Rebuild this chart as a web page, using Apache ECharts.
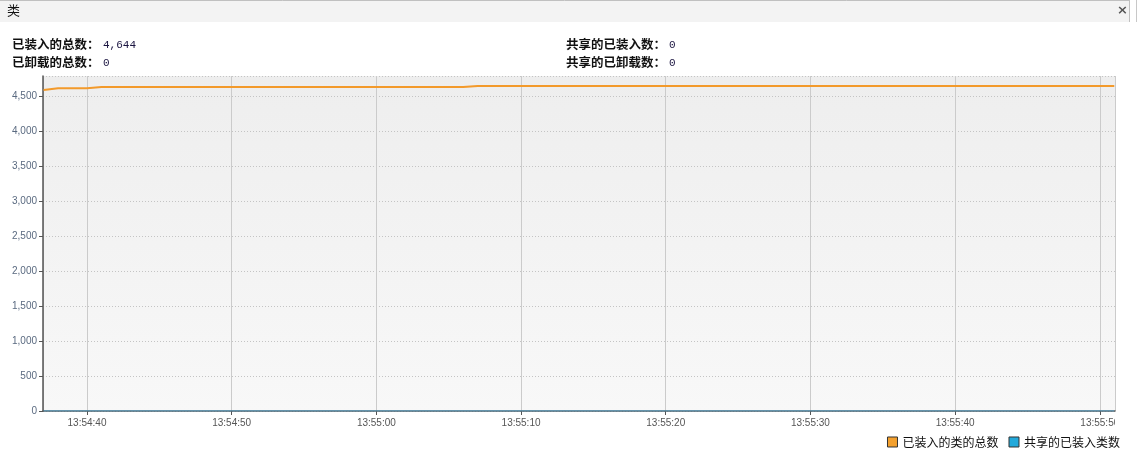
<!DOCTYPE html>
<html>
<head>
<meta charset="utf-8">
<script src="https://cdn.jsdelivr.net/npm/echarts@6/dist/echarts.min.js"></script>
<style>
html,body{margin:0;padding:0;background:#fff;}
#c{width:1137px;height:458px;}
</style>
</head>
<body>
<div id="c"></div>
<script>
// seconds after 13:54:00
var times = [37,38,39,40,41,42,43,44,45,46,47,48,49,50,51,52,53,54,55,56,57,58,59,60,61,62,63,64,65,66,67,68,69,70,71,72,73,74,75,76,77,78,79,80,81,82,83,84,85,86,87,88,89,90,91,92,93,94,95,96,97,98,99,100,101,102,103,104,105,106,107,108,109,110,111];
var loadedTotal = [4585,4610,4610,4610,4628,4628,4628,4628,4628,4628,4628,4628,4628,4628,4628,4628,4628,4628,4628,4628,4628,4628,4628,4628,4628,4628,4628,4628,4628,4628,4644,4644,4644,4644,4644,4644,4644,4644,4644,4644,4644,4644,4644,4644,4644,4644,4644,4644,4644,4644,4644,4644,4644,4644,4644,4644,4644,4644,4644,4644,4644,4644,4644,4644,4644,4644,4644,4644,4644,4644,4644,4644,4644,4644,4644];
var sharedLoaded = times.map(function(){return 0;});
var seriesNames = ['已装入的类的总数','共享的已装入类数'];
var infoLabels = ['已装入的总数：','已卸载的总数：','共享的已装入数：','共享的已卸载数：'];
var infoValues = ['4,644','0','0','0'];
var panelTitle = '类';

function pad(n){return (n<10?'0':'')+n;}
function fmtTime(v){
  var s = Math.round(v);
  var h = 13, m = 54 + Math.floor(s/60);
  return h + ':' + pad(m) + ':' + pad(s%60);
}
function fmtNum(v){ return String(v).replace(/\B(?=(\d{3})+(?!\d))/g, ','); }

var cjk = '"Noto Sans CJK SC", sans-serif';
var lab = '"Liberation Sans", Arial, sans-serif';
var chart = echarts.init(document.getElementById('c'), null, {renderer:'canvas'});
chart.setOption({
  animation:false,
  backgroundColor:'#ffffff',
  grid:{left:43,right:22,top:76,bottom:47,show:true,borderWidth:0,
    backgroundColor:new echarts.graphic.LinearGradient(0,0,0,1,[{offset:0,color:'#eeeeee'},{offset:1,color:'#f8f8f8'}])},
  xAxis:{
    type:'value', min:36.96, max:111.05,
    splitNumber:7,
    axisLine:{show:true,onZero:false,lineStyle:{color:'#555555',width:1.5}},
    axisTick:{show:true,length:4,lineStyle:{color:'#555555'}},
    splitLine:{show:true,lineStyle:{color:'#cbcbcb',width:1}},
    axisLabel:{formatter:fmtTime,showMinLabel:false,showMaxLabel:false,color:'#555555',fontSize:10,margin:7,fontFamily:lab}
  },
  yAxis:{
    type:'value', min:0, max:4786, interval:500,
    axisLine:{show:true,lineStyle:{color:'#555555',width:1.5}},
    axisTick:{show:true,length:4,lineStyle:{color:'#555555'}},
    splitLine:{show:true,lineStyle:{color:'#c4c4c4',type:[1,2],width:1}},
    axisLabel:{formatter:fmtNum,showMaxLabel:false,color:'#5a6a80',fontSize:10,margin:6,fontFamily:lab}
  },
  legend:{
    right:12, bottom:5, itemWidth:10, itemHeight:10, itemGap:10,
    icon:'rect',
    textStyle:{fontSize:12,color:'#111',fontFamily:cjk},
    data:[
      {name:seriesNames[0],itemStyle:{color:'#f3a02e',borderColor:'#333',borderWidth:1}},
      {name:seriesNames[1],itemStyle:{color:'#22a9db',borderColor:'#333',borderWidth:1}}
    ]
  },
  series:[
    {name:seriesNames[0],type:'line',showSymbol:false,symbol:'none',data:times.map(function(t,i){return [t,loadedTotal[i]];}),
      lineStyle:{color:'#f39a2b',width:2},itemStyle:{color:'#f3a02e'},z:5},
    {name:seriesNames[1],type:'line',showSymbol:false,symbol:'none',data:times.map(function(t,i){return [t,sharedLoaded[i]];}),
      lineStyle:{color:'#4aa8d8',width:1},itemStyle:{color:'#22a9db'},z:4}
  ],
  graphic:[
    {type:'rect',left:0,top:0,shape:{width:1129,height:22},style:{fill:'#f3f3f3',stroke:null},z:0},
    {type:'line',shape:{x1:0,y1:0.5,x2:1129,y2:0.5},style:{stroke:'#c0c0c0',lineWidth:1}},
    {type:'line',shape:{x1:1129.5,y1:0,x2:1129.5,y2:22},style:{stroke:'#c0c0c0',lineWidth:1}},
    {type:'line',shape:{x1:1136.5,y1:0,x2:1136.5,y2:22},style:{stroke:'#c8c8c8',lineWidth:1}},
    {type:'text',left:7,top:4,style:{text:panelTitle,font:'13px '+cjk,fill:'#111'}},
    {type:'text',left:1117,top:4,style:{text:'×',font:'bold 13px "DejaVu Sans", sans-serif',fill:'#555'}},
    {type:'text',left:12,top:38,style:{text:infoLabels[0],font:'bold 12.5px '+cjk,fill:'#111'}},
    {type:'text',left:103,top:40,style:{text:infoValues[0],font:'11px "Liberation Mono", monospace',fill:'#1a1440'}},
    {type:'text',left:12,top:56,style:{text:infoLabels[1],font:'bold 12.5px '+cjk,fill:'#111'}},
    {type:'text',left:103,top:58,style:{text:infoValues[1],font:'11px "Liberation Mono", monospace',fill:'#1a1440'}},
    {type:'text',left:566,top:38,style:{text:infoLabels[2],font:'bold 12.5px '+cjk,fill:'#111'}},
    {type:'text',left:669,top:40,style:{text:infoValues[2],font:'11px "Liberation Mono", monospace',fill:'#1a1440'}},
    {type:'text',left:566,top:56,style:{text:infoLabels[3],font:'bold 12.5px '+cjk,fill:'#111'}},
    {type:'text',left:669,top:58,style:{text:infoValues[3],font:'11px "Liberation Mono", monospace',fill:'#1a1440'}},
    {type:'rect',left:1115,top:414,shape:{width:22,height:18},style:{fill:'#ffffff'},z:100}
  ]
});
</script>
</body>
</html>
